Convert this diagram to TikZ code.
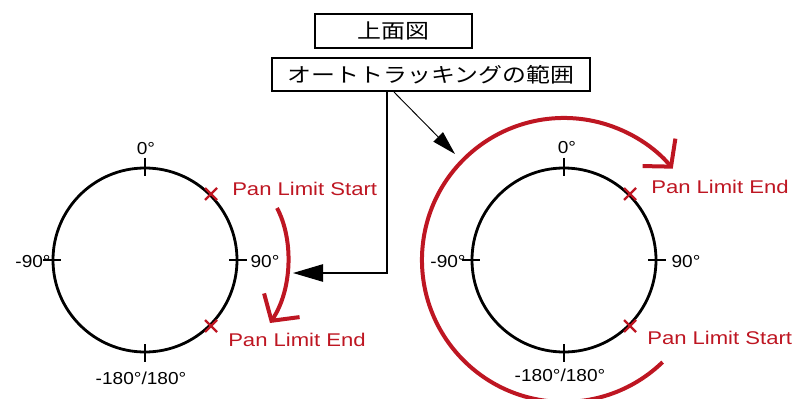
\documentclass[tikz,border=0pt]{standalone}
\usepackage{fontspec}
\setmainfont{Liberation Sans}
\newfontfamily\jp{Noto Sans CJK JP}
\usetikzlibrary{arrows.meta}
\definecolor{pred}{RGB}{190,22,34}
\newcommand{\blk}[1]{\scalebox{1.1}[1]{\fontsize{13pt}{15pt}\selectfont #1}}
\newcommand{\rd}[1]{\scalebox{1.2}[1]{\fontsize{13.8pt}{16pt}\selectfont #1}}
\newcommand{\jtxt}[1]{\scalebox{1.18}[1]{\jp\fontsize{15.2pt}{17pt}\selectfont #1}}
\tikzset{
  box/.style={draw, line width=1.6pt, inner sep=0pt, fill=white},
  ring/.style={circle, draw, line width=2.1pt, minimum size=138pt, inner sep=0pt},
  tick/.style={line width=2.1pt},
  xmark/.style={pred, line width=1.7pt},
  lbl/.style={inner sep=0pt},
  rlbl/.style={inner sep=0pt, text=pred, anchor=west},
  redarrow/.style={pred, line width=3pt, -{Straight Barb[length=14pt,width=32pt]}},
}
\begin{document}
\begin{tikzpicture}[x=0.75pt,y=-0.75pt]
\useasboundingbox (0,0) rectangle (795,399);
% boxes
\node[box, minimum width=117.75pt, minimum height=25.5pt] (top) at (393.5,31) {\jtxt{上面図}};
\node[box, minimum width=238.5pt, minimum height=24.75pt] (range) at (431,74.5) {\jtxt{オートトラッキングの範囲}};
% circles
\node[ring] (cL) at (145,260) {};
\node[ring] (cR) at (564,260) {};
% ticks
\foreach \c in {cL,cR}{
  \draw[tick] (\c.north) ++(0,-9) -- ++(0,18);
  \draw[tick] (\c.south) ++(0,-9) -- ++(0,18);
  \draw[tick] (\c.west) ++(-9,0) -- ++(18,0);
  \draw[tick] (\c.east) ++(-9,0) -- ++(18,0);
}
% crosses
\foreach \p in {cL.45,cL.-45,cR.45,cR.-45}{
  \draw[xmark] (\p) ++(-6,-6) -- ++(12,12);
  \draw[xmark] (\p) ++(-6,6) -- ++(12,-12);
}
% degree labels
\node[lbl] (l0) at (146,149) {\blk{0°}};
\node[lbl] (l90) at (265,262) {\blk{90°}};
\node[lbl] (lm90) at (33,262) {\blk{-90°}};
\node[lbl] (l180) at (141,378) {\blk{-180°/180°}};
\node[lbl] (r0) at (567,148) {\blk{0°}};
\node[lbl] (r90) at (686,262) {\blk{90°}};
\node[lbl] (rm90) at (448,262) {\blk{-90°}};
\node[lbl] (r180) at (560,375) {\blk{-180°/180°}};
% red labels
\node[rlbl] (lstart) at (232,189) {\rd{Pan Limit Start}};
\node[rlbl] (lend) at (228,340) {\rd{Pan Limit End}};
\node[rlbl] (rend) at (651,187) {\rd{Pan Limit End}};
\node[rlbl] (rstart) at (647,338) {\rd{Pan Limit Start}};
% red arrows
\coordinate (la) at (277,208);
\coordinate (lb) at (270,323);
\draw[redarrow] (la) .. controls (294,240) and (292,290) .. (lb);
\coordinate (ra) at (662.6,362.1);
\draw[redarrow] (ra) arc[start angle=46, end angle=320, radius=142];
% black connectors
\coordinate (c1) at (387,0);
\coordinate (tipL) at (293,273);
\draw[line width=1.1pt, -{Triangle[length=22.5pt,width=13pt]}] (range.south -| c1) |- (tipL);
\coordinate (d1) at (394,0);
\coordinate (tipR) at (455,154);
\draw[line width=0.7pt, -{Triangle[length=18pt,width=10pt]}] (range.south -| d1) -- (tipR);
\end{tikzpicture}
\end{document}
